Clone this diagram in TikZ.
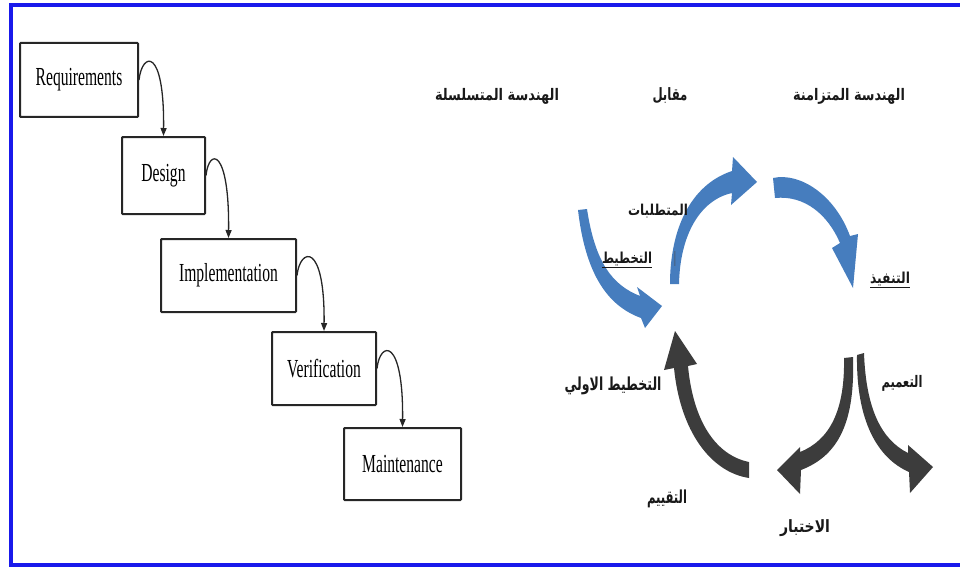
\documentclass[tikz,border=0pt]{standalone}
\usepackage{fontspec}
\usepackage{graphicx}
\setmainfont{Liberation Serif}
\newfontfamily\arabicfont[Script=Arabic]{DejaVu Sans}
\TeXXeTstate=1
\usetikzlibrary{arrows.meta}
\definecolor{frameblue}{RGB}{25,25,235}
\definecolor{arrowblue}{RGB}{70,125,190}
\definecolor{arrowdark}{RGB}{60,60,60}
\newcommand{\artext}[3]{\resizebox*{#1}{#2}{\arabicfont\bfseries #3}}
\newcommand{\wtext}[1]{\scalebox{0.6}[1]{\fontsize{26}{26}\selectfont #1}}
\begin{document}
\begin{tikzpicture}[x=1pt,y=-1pt,
  wbox/.style={draw=black!85, line width=2pt, rounded corners=0.8pt, inner sep=0pt},
  conn/.style={draw=black!85, line width=1.3pt, -{Triangle[length=8pt,width=6pt]}},
  lbl/.style={inner sep=0pt, text=black!90}]
\useasboundingbox (0,0) rectangle (960,567);
% frame
\draw[frameblue, line width=4pt] (10.5,5.5) rectangle (985,564.5);

% waterfall boxes
\node[wbox, minimum width=118pt, minimum height=74pt] (req) at (79,80) {\wtext{Requirements}};
\node[wbox, minimum width=83pt, minimum height=77pt] (des) at (163.5,175.5) {\wtext{Design}};
\node[wbox, minimum width=135pt, minimum height=73pt] (imp) at (228.5,275.5) {\wtext{Implementation}};
\node[wbox, minimum width=104pt, minimum height=73pt] (ver) at (324,368.5) {\wtext{Verification}};
\node[wbox, minimum width=117pt, minimum height=72pt] (mai) at (402.5,464) {\wtext{Maintenance}};

\draw[conn] (req.east) .. controls +(3,-28) and +(1,-90) .. (des.north);
\draw[conn] (des.east) .. controls +(3,-28) and +(1,-90) .. (imp.north);
\draw[conn] (imp.east) .. controls +(3,-28) and +(1,-90) .. (ver.north);
\draw[conn] (ver.east) .. controls +(3,-28) and +(1,-90) .. (mai.north);

% titles
\node[lbl] (t1) at (497,96) {\artext{124pt}{16pt}{\beginR الهندسة المتسلسلة\endR}};
\node[lbl] (t2) at (670,96) {\artext{35pt}{16pt}{\beginR مقابل\endR}};
\node[lbl] (t3) at (849,96) {\artext{112pt}{16pt}{\beginR الهندسة المتزامنة\endR}};

% blue arrows
\fill[arrowblue] (578,210) .. controls (585,270) and (605,305) .. (641,318)
  -- (645,328) -- (662,306) -- (637,287) -- (640,296)
  .. controls (612,285) and (595,262) .. (587,209) -- cycle;
\fill[arrowblue] (670,284) .. controls (670,230) and (690,185) .. (732,171)
  -- (733,157) -- (757,182) -- (731,205) -- (732,193)
  .. controls (700,200) and (680,235) .. (679,284) -- cycle;
\fill[arrowblue] (773,178) .. controls (800,172) and (835,195) .. (850,236)
  -- (858,234) -- (853,288) -- (832,248) -- (840,243)
  .. controls (828,215) and (805,195) .. (775,198) -- cycle;

% dark arrows
\fill[arrowdark] (749,478) .. controls (710,472) and (680,430) .. (674,368)
  -- (664,370) -- (675,331) -- (697,364) -- (688,366)
  .. controls (693,420) and (715,455) .. (749,462) -- cycle;
\fill[arrowdark] (844,358) .. controls (845,410) and (830,440) .. (800,452)
  -- (800,447) -- (777,470) -- (800,494) -- (801,470)
  .. controls (840,455) and (855,420) .. (853,357) -- cycle;
\fill[arrowdark] (857,355) .. controls (856,420) and (877,458) .. (909,472)
  -- (910,493) -- (933,467) -- (908,445) -- (908,453)
  .. controls (882,440) and (866,410) .. (864,353) -- cycle;

% labels
\node[lbl] (l1) at (658,211) {\artext{60pt}{14pt}{\beginR المتطلبات\endR}};
\node[lbl] (l2) at (627,260) {\underline{\artext{50pt}{14pt}{\beginR التخطيط\endR}}};
\node[lbl, text=black!70] (l3) at (675,259) {\resizebox{1.8pt}{15pt}{\arabicfont ا}};
\node[lbl] (l4) at (890,280) {\underline{\artext{40pt}{14pt}{\beginR التنفيذ\endR}}};
\node[lbl] (l5) at (613,386) {\artext{97pt}{18pt}{\beginR التخطيط الاولي\endR}};
\node[lbl] (l6) at (902,383) {\artext{41pt}{16pt}{\beginR التعميم\endR}};
\node[lbl] (l7) at (667,499) {\artext{40pt}{18pt}{\beginR التقييم\endR}};
\node[lbl] (l8) at (805,528) {\artext{50pt}{17pt}{\beginR الاختبار\endR}};
\end{tikzpicture}
\end{document}
